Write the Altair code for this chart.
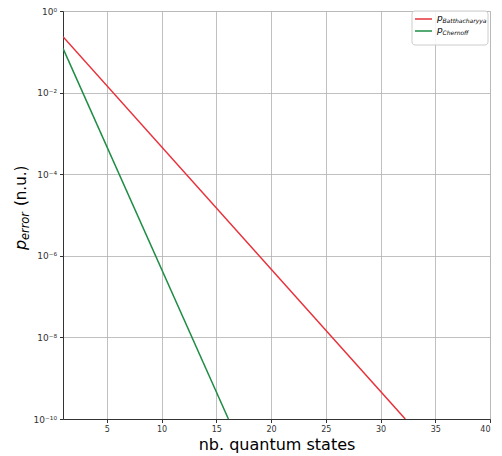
import altair as alt
import pandas as pd

# Data (straight lines on log scale)
series = ["Batthacharyya", "Batthacharyya", "Chernoff", "Chernoff"]
n_states = [1.0, 32.26, 1.0, 16.11]
p_error = [0.234, 1e-10, 0.121, 1e-10]

x_ticks = [5, 10, 15, 20, 25, 30, 35, 40]
y_ticks = [1, 1e-2, 1e-4, 1e-6, 1e-8, 1e-10]
y_exponents = [0, -2, -4, -6, -8, -10]
y_tick_labels = ["10\u2070", "10\u207b\u00b2", "10\u207b\u2074", "10\u207b\u2076", "10\u207b\u2078", "10\u207b\u00b9\u2070"]

RED = "#e8303a"
GREEN = "#1e8c45"
FONT = "DejaVu Sans"

df = pd.DataFrame({"series": series, "n": n_states, "p": p_error})

# label expression for superscript tick labels
expr = "'" + y_tick_labels[-1] + "'"
for e, lab in reversed(list(zip(y_exponents[:-1], y_tick_labels[:-1]))):
    expr = f"round(log(datum.value)/LN10) == {e} ? '{lab}' : ({expr})"

W, H = 427, 408
TOP = 3

lines = alt.Chart(df).mark_line(strokeWidth=1.5, clip=True).encode(
    x=alt.X("n:Q", scale=alt.Scale(domain=[1, 40], nice=False, zero=False),
            axis=alt.Axis(values=x_ticks, title="nb. quantum states", grid=True,
                          gridColor="#b0b0b0", gridWidth=0.8,
                          labelFont=FONT, labelFontSize=8, labelColor="#333",
                          tickColor="#333", tickSize=3.5, domainColor="#333",
                          titleFont=FONT, titleFontSize=16, titleFontWeight="normal",
                          titleColor="black", titlePadding=3, labelPadding=3)),
    y=alt.Y("p:Q", scale=alt.Scale(type="log", domain=[1e-10, 1], nice=False),
            axis=alt.Axis(values=y_ticks, title=None, grid=True,
                          gridColor="#b0b0b0", gridWidth=0.8,
                          labelExpr=expr,
                          labelFont=FONT, labelFontSize=9, labelColor="#333",
                          tickColor="#333", tickSize=3.5, domainColor="#333",
                          labelPadding=3)),
    color=alt.Color("series:N", scale=alt.Scale(domain=["Batthacharyya", "Chernoff"], range=[RED, GREEN]),
                    legend=None),
    detail="series:N",
)

# Y axis title composed of pieces: italic p, subscript 'error', '(n.u.)'
yt_p = alt.Chart().mark_text(text="p", angle=270, align="left", baseline="alphabetic",
                               font=FONT, fontSize=16, fontStyle="italic", color="black").encode(
    x=alt.value(-37), y=alt.value(250 - 8 - TOP))
yt_sub = alt.Chart().mark_text(text="error", angle=270, align="left", baseline="alphabetic",
                                 font=FONT, fontSize=11.4, fontStyle="italic", color="black").encode(
    x=alt.value(-34), y=alt.value(240 - 8 - TOP))
yt_unit = alt.Chart().mark_text(text="(n.u.)", angle=270, align="left", baseline="alphabetic",
                                  font=FONT, fontSize=15, color="black").encode(
    x=alt.value(-37), y=alt.value(206 - 8 - TOP))

# Custom legend
leg_box = alt.Chart().mark_rect(fill="white", fillOpacity=0.85, stroke="#cccccc", strokeWidth=1,
                                cornerRadius=3).encode(
    x=alt.value(349), x2=alt.value(425), y=alt.value(0), y2=alt.value(34))
leg_r = alt.Chart().mark_rule(color=RED, strokeWidth=1.5).encode(
    x=alt.value(352), x2=alt.value(369), y=alt.value(8))
leg_g = alt.Chart().mark_rule(color=GREEN, strokeWidth=1.5).encode(
    x=alt.value(352), x2=alt.value(369), y=alt.value(20))
leg_rp = alt.Chart().mark_text(text="p", align="left", baseline="alphabetic", font=FONT,
                               fontSize=9, fontStyle="italic", color="black").encode(
    x=alt.value(374), y=alt.value(10))
leg_rs = alt.Chart().mark_text(text="Batthacharyya", align="left", baseline="alphabetic", font=FONT,
                               fontSize=6, fontStyle="italic", color="black").encode(
    x=alt.value(379.5), y=alt.value(12))
leg_gp = alt.Chart().mark_text(text="p", align="left", baseline="alphabetic", font=FONT,
                               fontSize=9, fontStyle="italic", color="black").encode(
    x=alt.value(374), y=alt.value(22))
leg_gs = alt.Chart().mark_text(text="Chernoff", align="left", baseline="alphabetic", font=FONT,
                               fontSize=6, fontStyle="italic", color="black").encode(
    x=alt.value(379.5), y=alt.value(24))

chart = alt.layer(
    lines, yt_p, yt_sub, yt_unit, leg_box, leg_r, leg_g, leg_rp, leg_rs, leg_gp, leg_gs
).properties(
    width=W, height=H,
    autosize=alt.AutoSizeParams(type="none"),
    padding={"left": 55, "top": TOP, "right": 4, "bottom": 36},
).configure_view(
    stroke="#333", strokeWidth=1
).configure(background="white")

chart.save("out.html", embed_options={"renderer": "svg", "actions": False})
